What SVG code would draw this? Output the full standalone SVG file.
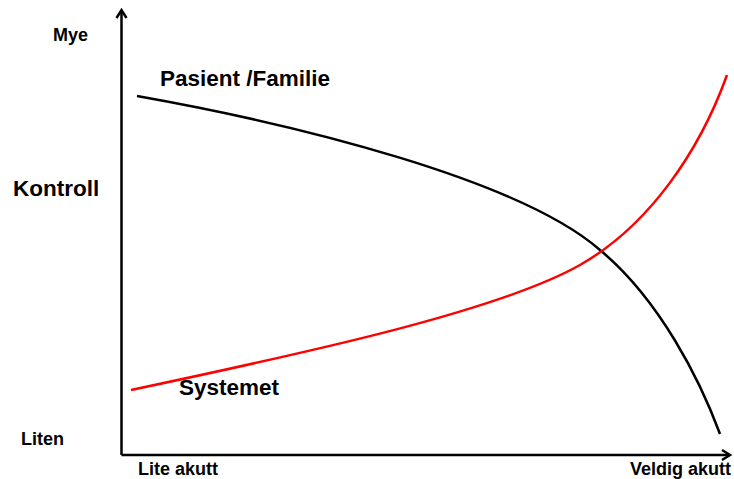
<svg xmlns="http://www.w3.org/2000/svg" width="734" height="479" viewBox="0 0 734 479">
  <style>
    .lbl { font-family: "Liberation Sans", Arial, sans-serif; font-weight: bold; fill: #000; }
    .s { font-size: 18px; }
    .l { font-size: 22.5px; }
    .axis { fill: none; stroke: #000; stroke-width: 2.5; }
    .curve { fill: none; stroke-width: 2.5; }
  </style>
  <rect width="734" height="479" fill="#fff"/>

  <!-- axes -->
  <g id="axes">
    <path class="axis" d="M121.5,455 V10"/>
    <path class="axis" d="M116.5,18 L121.5,10 L126.5,18"/>
    <path class="axis" d="M121.5,455 H730"/>
    <path class="axis" d="M722,450 L730,455 L722,460"/>
  </g>

  <!-- curves -->
  <g id="connectors">
    <path id="pasient-curve" class="curve" stroke="#000" d="M137,96 C300,125 520,180 600,250 C660,300 700,380 720,434"/>
    <path id="system-curve" class="curve" stroke="#ff0000" d="M131,390 C320,350 500,310 580,265 C650,225 700,150 727,75"/>
  </g>

  <!-- labels -->
  <g id="label-mye"><text class="lbl s" x="53" y="41">Mye</text></g>
  <g id="label-kontroll"><text class="lbl l" x="13" y="196">Kontroll</text></g>
  <g id="label-liten"><text class="lbl s" x="21" y="445">Liten</text></g>
  <g id="label-lite-akutt"><text class="lbl s" x="138" y="475">Lite akutt</text></g>
  <g id="label-veldig-akutt"><text class="lbl s" x="630" y="475">Veldig akutt</text></g>
  <g id="label-pasient"><text class="lbl l" x="160" y="86">Pasient /Familie</text></g>
  <g id="label-systemet"><text class="lbl l" x="179" y="395">Systemet</text></g>
</svg>
